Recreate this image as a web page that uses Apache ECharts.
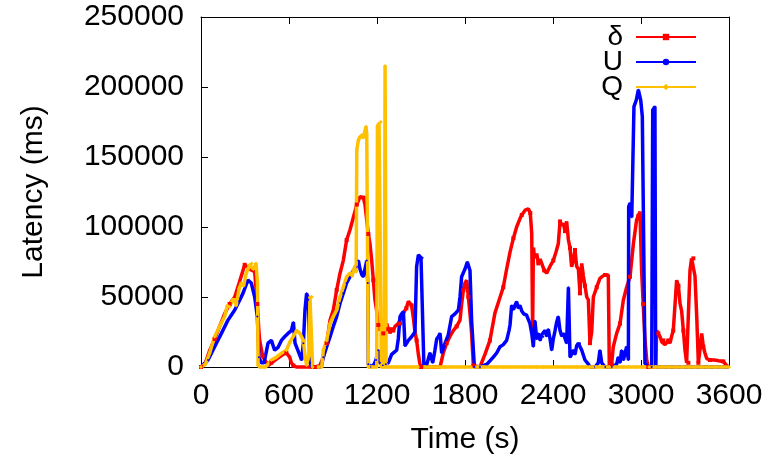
<!DOCTYPE html>
<html>
<head>
<meta charset="utf-8">
<script src="https://cdn.jsdelivr.net/npm/echarts@6/dist/echarts.min.js"></script>
<style>html,body{margin:0;padding:0;background:#fff}#c{width:769px;height:463px}</style>
</head>
<body>
<div id="c"></div>
<script>
const xTicks = [0, 600, 1200, 1800, 2400, 3000, 3600];
const yTicks = [0, 50000, 100000, 150000, 200000, 250000];
const seriesNames = ['δ', 'U', 'Q'];

const deltaT = [0,30,60,93,127,161,195,230,260,298,330,366,384,395,400,420,434,460,480,520,560,582,605,616,630,650,700,777,810,834,857,880,902,925,948,970,993,1016,1039,1062,1084,1096,1107,1118,1130,1141,1152,1164,1175,1186,1198,1209,1220,1232,1243,1255,1266,1277,1290,1300,1311,1323,1345,1357,1368,1380,1400,1414,1425,1436,1448,1459,1470,1482,1493,1500,1630,1652,1675,1698,1720,1743,1766,1777,1789,1800,1811,1823,1834,1845,1857,1902,1936,1970,2004,2030,2061,2084,2107,2130,2152,2175,2187,2210,2232,2245,2255,2261,2266,2277,2289,2300,2312,2323,2340,2357,2380,2402,2420,2436,2448,2460,2471,2482,2493,2505,2516,2527,2538,2550,2561,2573,2584,2596,2607,2618,2630,2641,2652,2664,2675,2698,2720,2740,2755,2777,2784,2800,2811,2834,2857,2880,2902,2925,2948,2970,2982,2993,3004,3015,3027,3039,3050,3100,3107,3118,3130,3141,3152,3164,3175,3186,3198,3209,3220,3232,3243,3255,3266,3277,3289,3300,3311,3323,3334,3345,3357,3368,3380,3391,3402,3414,3425,3436,3448,3470,3500,3530,3561,3584,3600];
const deltaV = [0,3000,12000,20000,29000,38000,45000,50000,60000,73000,70000,68000,45000,25000,19000,8000,5000,1000,3000,6000,9000,10000,7000,3000,1000,0,0,0,1000,7000,17000,33500,40700,55000,67000,76000,90700,98000,107000,116000,121600,122800,121000,116000,105000,95000,88000,76000,62000,48000,40000,30000,26000,30000,24000,28000,31000,27000,24000,28000,26000,29000,31000,31000,36000,38500,42000,47000,48000,44000,35000,25000,19000,9000,2000,0,0,10000,17000,22000,26000,29000,33500,45000,55000,60000,62000,50000,38000,24000,1000,0,9000,19000,38500,47000,57000,70000,82000,92000,100000,106000,108600,112000,113000,110000,95500,25000,84000,78000,81000,74000,77000,74000,69000,67000,72000,76000,82000,88000,104000,101000,102600,97000,104000,90700,85000,71600,76000,83600,72000,70000,52600,74000,65000,58000,50000,48000,17000,25000,50000,57000,63300,65000,65700,65700,0,2000,14500,24000,31000,48000,57000,64500,88000,105000,108000,111000,69000,45000,20000,5000,0,0,26000,24000,21600,18000,19000,16000,15700,19000,17000,22000,26000,27000,62000,58000,45500,40000,26000,12000,3000,3000,69000,77600,77600,65000,36000,3000,12000,24000,14500,10000,6000,5000,5000,4500,4000,1000,0];

const uT = [0,48,93,139,184,230,260,286,320,343,366,384,395,411,430,457,480,502,525,548,570,593,616,630,641,660,686,698,709,720,732,743,760,820,834,857,880,902,925,948,970,993,1016,1039,1062,1073,1084,1096,1107,1118,1130,1137,1141,1160,1180,1193,1209,1220,1240,1260,1277,1300,1334,1345,1357,1368,1380,1391,1402,1414,1436,1448,1459,1470,1482,1489,1500,1511,1520,1540,1561,1580,1595,1607,1618,1630,1641,1664,1686,1709,1732,1755,1766,1777,1800,1816,1834,1845,1864,1902,1950,1993,2016,2039,2061,2084,2100,2107,2118,2130,2141,2152,2164,2175,2187,2200,2220,2243,2255,2266,2277,2289,2300,2312,2323,2334,2345,2357,2368,2380,2391,2402,2414,2425,2436,2448,2460,2471,2493,2505,2516,2527,2538,2550,2561,2573,2584,2596,2618,2641,2652,2686,2709,2720,2732,2755,2800,2834,2845,2857,2868,2880,2902,2914,2916,2925,2937,2952,2968,2982,2998,3009,3016,3027,3050,3073,3080,3095,3100,3600];
const uV = [0,5000,14500,24000,33500,40700,47000,52600,62000,60000,50000,36000,7000,3000,3000,17000,19000,12000,14000,19000,21600,24000,26000,32000,17000,12000,5000,17000,40700,52600,48000,3000,0,0,7000,14500,21600,29000,36000,45500,52600,60000,64500,69000,71600,76000,70000,66000,64500,70000,76000,60000,2000,0,2000,5000,12000,3000,1000,2000,3000,9000,12000,20000,36000,38000,39500,15000,17000,19000,21600,23000,25000,71600,80000,80000,78000,78000,0,2000,10000,3000,12000,20000,21600,24000,10000,17000,23000,36000,38000,40700,50000,64500,70000,75000,69000,33500,0,0,2000,7000,10000,14500,16000,19000,26000,30000,44000,41000,44000,46600,42000,44000,40000,38000,37000,31000,24000,14500,33000,20000,24000,19000,23000,21600,26000,22000,27000,20000,12000,20000,26000,32000,36000,26000,22000,24000,17000,57000,7000,8000,12000,9000,15000,17000,17000,12000,5000,2000,0,0,3000,12000,3000,0,0,2000,7000,3000,12000,5000,14500,5000,114500,117000,107000,186000,190700,198000,190700,178800,112000,2600,0,0,183600,186000,0,0];

const qT = [0,30,59,93,127,161,180,195,215,230,240,260,275,290,309,320,332,345,355,366,375,385,389,400,440,480,514,550,582,607,630,652,675,698,709,720,735,743,755,761,800,823,834,857,880,902,925,948,970,993,1016,1030,1039,1050,1058,1062,1073,1084,1096,1107,1118,1125,1130,1141,1170,1198,1203,1214,1225,1230,1250,1255,1262,1300,1345,1390,1435,1480,1525,1570,1615,1660,1705,1750,1795,1840,1885,1930,1975,2020,2065,2110,2155,2200,2245,2290,2335,2380,2425,2470,2515,2560,2605,2650,2695,2740,2785,2830,2875,2920,2965,3010,3055,3100,3145,3190,3235,3280,3325,3370,3415,3460,3505,3550,3600];
const qV = [0,2000,10000,21600,29000,36000,44000,43000,48000,48000,44000,56000,60000,58000,67000,70000,73000,74000,70000,71600,74000,60000,1500,0,0,5000,7000,10000,12000,18000,22000,26000,24000,19000,8000,1500,8000,50000,50000,0,0,0,12000,19000,31000,36000,40700,50000,57000,64500,67000,65000,69000,72000,68000,155000,162000,164500,165700,164000,164500,171600,166000,0,0,0,172000,174000,175000,0,0,215000,0,0,0,0,0,0,0,0,0,0,0,0,0,0,0,0,0,0,0,0,0,0,0,0,0,0,0,0,0,0,0,0,0,0,0,0,0,0,0,0,0,0,0,0,0,0,0,0,0,0,0,0,0];

function pairs(t, v) { return t.map((x, i) => [x, v[i]]); }

const FONT = '"Liberation Sans", Arial, sans-serif';
const chart = echarts.init(document.getElementById('c'), null, { renderer: 'canvas' });

const axisLineStyle = { color: '#000', width: 1 };
const plain = v => String(v);
chart.setOption({
  animation: false,
  backgroundColor: '#fff',
  textStyle: { fontFamily: FONT },
  grid: { left: 201, right: 40, top: 17, bottom: 96, containLabel: false },
  legend: {
    data: seriesNames,
    orient: 'vertical',
    right: 67,
    top: 18,
    align: 'right',
    itemWidth: 60,
    itemHeight: 8,
    itemGap: -3,
    textStyle: { fontSize: 28, lineHeight: 20, color: '#000', fontFamily: FONT, padding: [0, 8, 0, 0] }
  },
  xAxis: [
    {
      type: 'value', min: xTicks[0], max: xTicks[xTicks.length - 1], interval: xTicks[1] - xTicks[0],
      position: 'bottom',
      name: 'Time (s)', nameLocation: 'middle', nameGap: 58,
      nameTextStyle: { fontSize: 30, color: '#000', fontFamily: FONT },
      axisLine: { show: true, onZero: false, lineStyle: axisLineStyle },
      axisTick: { show: true, inside: true, length: 7, lineStyle: axisLineStyle },
      axisLabel: { fontSize: 30, color: '#000', margin: 14, fontFamily: FONT, formatter: plain },
      splitLine: { show: false }
    },
    {
      type: 'value', min: xTicks[0], max: xTicks[xTicks.length - 1], interval: xTicks[1] - xTicks[0],
      position: 'top',
      axisLine: { show: true, onZero: false, lineStyle: axisLineStyle },
      axisTick: { show: true, inside: true, length: 7, lineStyle: axisLineStyle },
      axisLabel: { show: false },
      splitLine: { show: false }
    }
  ],
  yAxis: [
    {
      type: 'value', min: yTicks[0], max: yTicks[yTicks.length - 1], interval: yTicks[1] - yTicks[0],
      position: 'left',
      name: 'Latency (ms)', nameLocation: 'middle', nameGap: 152,
      nameTextStyle: { fontSize: 30, color: '#000', fontFamily: FONT },
      axisLine: { show: true, onZero: false, lineStyle: axisLineStyle },
      axisTick: { show: true, inside: true, length: 7, lineStyle: axisLineStyle },
      axisLabel: { fontSize: 30, color: '#000', margin: 17, fontFamily: FONT, formatter: plain },
      splitLine: { show: false }
    },
    {
      type: 'value', min: yTicks[0], max: yTicks[yTicks.length - 1], interval: yTicks[1] - yTicks[0],
      position: 'right',
      axisLine: { show: true, onZero: false, lineStyle: axisLineStyle },
      axisTick: { show: false },
      axisLabel: { show: false },
      splitLine: { show: false }
    }
  ],
  series: [
    {
      name: seriesNames[0], type: 'line', data: pairs(deltaT, deltaV),
      xAxisIndex: 0, yAxisIndex: 0, clip: false,
      color: '#ff0000',
      lineStyle: { width: 3.5, color: '#ff0000' },
      symbol: 'rect',
      symbolSize: (v, p) => (p && p.dataIndex % 3 === 0 ? 4 : 0),
      itemStyle: { color: '#ff0000' }
    },
    {
      name: seriesNames[1], type: 'line', data: pairs(uT, uV),
      xAxisIndex: 0, yAxisIndex: 0, clip: false,
      color: '#0000ff',
      lineStyle: { width: 3.5, color: '#0000ff' },
      symbol: 'circle', symbolSize: 2,
      itemStyle: { color: '#0000ff' }
    },
    {
      name: seriesNames[2], type: 'line', data: pairs(qT, qV),
      xAxisIndex: 0, yAxisIndex: 0, clip: false,
      color: '#ffc000',
      lineStyle: { width: 3.5, color: '#ffc000' },
      symbol: 'diamond', symbolSize: 4,
      itemStyle: { color: '#ffc000' }
    }
  ]
});
</script>
</body>
</html>
